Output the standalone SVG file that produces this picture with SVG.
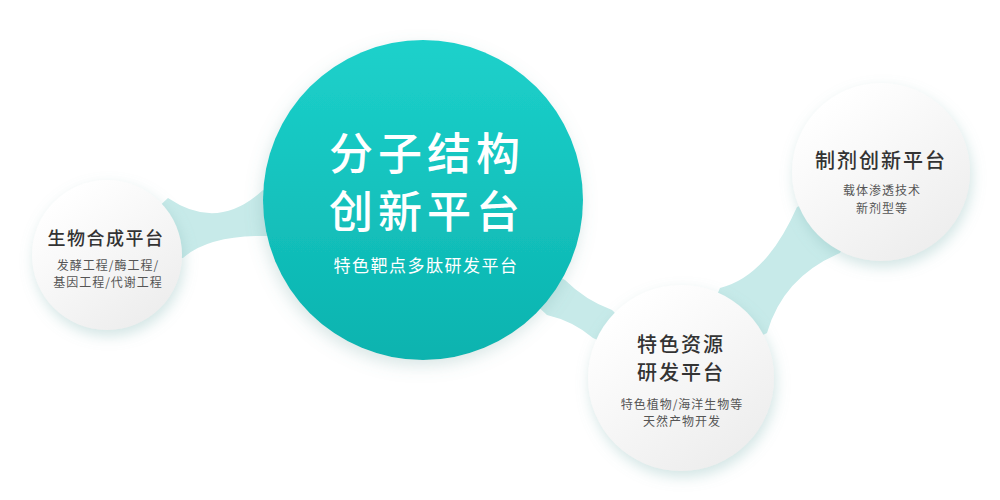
<svg xmlns="http://www.w3.org/2000/svg" width="1000" height="500" viewBox="0 0 1000 500">
<defs>
<linearGradient id="gMain" x1="0" y1="0" x2="0" y2="1">
<stop offset="0" stop-color="#1dd1cb"/>
<stop offset="1" stop-color="#0bb3af"/>
</linearGradient>
<linearGradient id="gWhite" x1="0.2" y1="0.1" x2="0.8" y2="0.95">
<stop offset="0" stop-color="#ffffff"/>
<stop offset="1" stop-color="#ededed"/>
</linearGradient>
<filter id="sh" x="-30%" y="-30%" width="160%" height="160%">
<feDropShadow dx="2" dy="6" stdDeviation="7" flood-color="#7fb5b3" flood-opacity="0.35"/>
</filter>
<filter id="shMain" x="-30%" y="-30%" width="160%" height="160%">
<feDropShadow dx="-2" dy="6" stdDeviation="8" flood-color="#6a9e9c" flood-opacity="0.25"/>
</filter>
</defs>
<style>
.bridge{fill:#c7eae9}
.wc{fill:url(#gWhite);filter:url(#sh)}
.t{font-family:"Noto Sans CJK SC","Noto Sans",sans-serif;text-anchor:middle}
.title{font-weight:500;fill:#333333}
.sub{fill:#555555;font-size:12px;letter-spacing:1px}
.wt{fill:#ffffff}
</style>
<rect width="1000" height="500" fill="#ffffff"/>
<g id="connectors">
<path class="bridge" d="M168,198 Q218,232 263,190 L300,212 L267,236 Q209,235 183,258 L107,255 Z"/>
<path class="bridge" d="M565,280 Q585,300 612,310 L681,378 L593,338 Q573,321 547,315 L423,200 Z"/>
<path class="bridge" d="M797,207 Q766,277 720,288 L681,378 L767,333 Q783,277 840,253 L881,172 Z"/>
</g>
<g id="node-main">
<circle cx="423" cy="200" r="160" fill="url(#gMain)" filter="url(#shMain)"/>
<text class="t wt" x="427" y="170" font-size="44" font-weight="500" letter-spacing="5">分子结构</text>
<text class="t wt" x="427" y="228" font-size="44" font-weight="500" letter-spacing="5">创新平台</text>
<text class="t wt" x="426" y="272" font-size="17" letter-spacing="1.5">特色靶点多肽研发平台</text>
</g>
<g id="node-bio">
<circle class="wc" cx="107" cy="255" r="75"/>
<text class="t title" x="106" y="245" font-size="18" letter-spacing="1.5">生物合成平台</text>
<text class="t sub" x="108" y="270">发酵工程/酶工程/</text>
<text class="t sub" x="108" y="287">基因工程/代谢工程</text>
</g>
<g id="node-resource">
<circle class="wc" cx="681" cy="378" r="93"/>
<text class="t title" x="681" y="352" font-size="20" letter-spacing="2">特色资源</text>
<text class="t title" x="681" y="380" font-size="20" letter-spacing="2">研发平台</text>
<text class="t sub" x="682" y="409">特色植物/海洋生物等</text>
<text class="t sub" x="682" y="426">天然产物开发</text>
</g>
<g id="node-formulation">
<circle class="wc" cx="881" cy="172" r="89"/>
<text class="t title" x="881" y="168" font-size="20" letter-spacing="2">制剂创新平台</text>
<text class="t sub" x="882" y="195">载体渗透技术</text>
<text class="t sub" x="882" y="213">新剂型等</text>
</g>
</svg>
